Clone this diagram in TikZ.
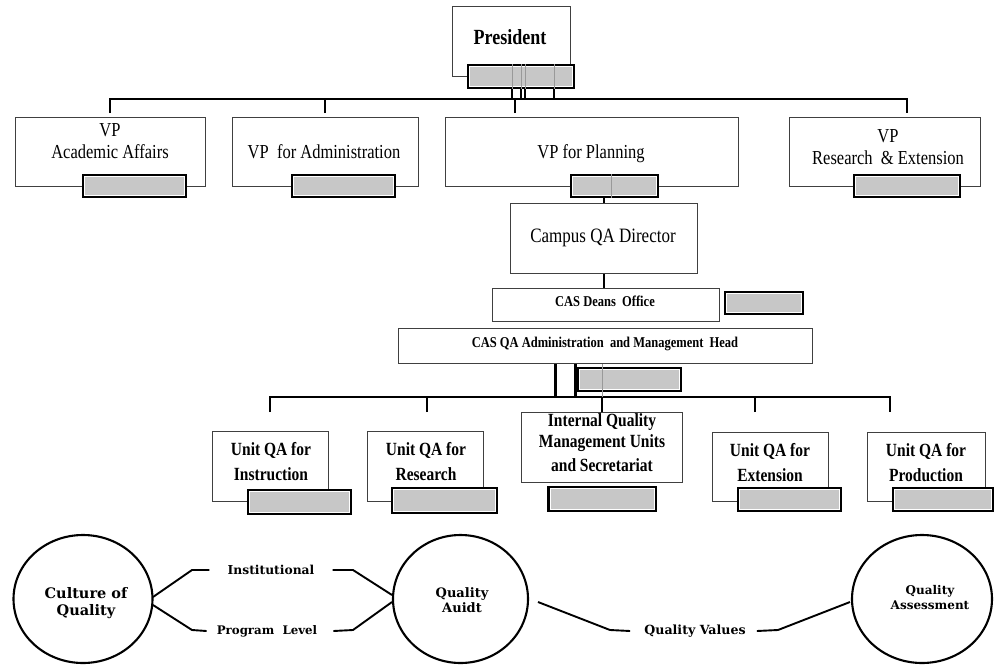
\documentclass[tikz,border=0pt]{standalone}
\usepackage{graphicx}
\usepackage{fontspec}
\setmainfont{Liberation Serif}
\newfontfamily\roundfont{DejaVu Serif}
\usetikzlibrary{shapes.geometric}
% centred lines of text, stretched a little upwards
\newcommand{\tallstack}[1]{\scalebox{1}[1.2]{\begin{tabular}{@{}c@{}}#1\end{tabular}}}
\begin{document}
\begin{tikzpicture}[x=1pt,y=-1pt,
  sz/.style 2 args={minimum width=#1pt, minimum height=#2pt},
  box/.style={draw=black!75, line width=1.1pt, fill=white, inner sep=0pt, anchor=north west},
  tag/.style={draw=black, line width=1.7pt, fill=white, inner sep=0pt, anchor=north west,
    path picture={\fill[black!22] ([shift={(1.8pt,1.8pt)}]path picture bounding box.south west)
      rectangle ([shift={(-1.8pt,-1.8pt)}]path picture bounding box.north east);}},
  txt/.style={inner sep=0pt, align=center},
  vpfont/.style={font=\fontsize{16.5}{19}\selectfont},
  unitfont/.style={font=\fontsize{15.5}{21}\selectfont\bfseries},
  conn/.style={draw=black, line width=1.9pt},
  thinconn/.style={draw=black, line width=1.3pt},
  faint/.style={draw=black!40, line width=0.7pt},
  ring/.style={ellipse, draw=black, line width=2.1pt, inner sep=0pt},
  link/.style={draw=black, line width=1.9pt},
  tie/.style={inner xsep=0pt, inner ysep=2pt, font=\roundfont\bfseries}
]
\useasboundingbox (0,0) rectangle (994,665);

% ---------- top level ----------
\node[box, sz={118}{70}] (pres) at (452,6) {};
\node[tag, sz={106}{23}] (presg) at (467,64) {};
\node[txt, font=\fontsize{18}{20}\selectfont\bfseries] (pres-t) at (510,40) {\tallstack{President}};

\node[box, sz={190}{69}] (vpaa) at (15,117) {};
\node[tag, sz={103}{22}] (vpaag) at (82,174) {};
\node[txt, vpfont] (vpaa-t) at (110,143) {\tallstack{VP\\Academic Affairs}};

\node[box, sz={186}{69}] (vpadm) at (232,117) {};
\node[tag, sz={103}{22}] (vpadmg) at (291,174) {};
\node[txt, vpfont] (vpadm-t) at (324,154) {\tallstack{VP\ \ for Administration}};

\node[box, sz={293}{69}] (vpplan) at (445,117) {};
\node[tag, sz={87}{22}] (vpplang) at (570,174) {};
\node[txt, vpfont] (vpplan-t) at (591,154) {\tallstack{VP for Planning}};

\node[box, sz={191}{69}] (vpres) at (789,117) {};
\node[tag, sz={106}{22}] (vpresg) at (853,174) {};
\node[txt, vpfont] (vpres-t) at (888,149) {\tallstack{VP\\Research\ \ \& Extension}};

% president to vice presidents
\coordinate (barL) at (110,99);
\coordinate (barR) at (907,99);
\coordinate (vpaa-in) at (110,113);
\coordinate (vpadm-in) at (325,113);
\coordinate (vpplan-in) at (515,113);
\coordinate (vpres-in) at (907,113);
\draw[conn] (vpaa-in) -- (barL) -- (barR) -- (vpres-in);
\draw[conn] (vpadm-in) -- (vpadm-in |- barL);
\draw[conn] (vpplan-in) -- (vpplan-in |- barL);
\foreach \dx in {-9,0,4,33}
  \draw[thinconn] ([xshift=\dx pt]presg.south) -- ([xshift=\dx pt]presg.south |- barL);
\foreach \dx in {-9,0,4,33}
  \draw[faint] ([xshift=\dx pt]presg.north) -- ([xshift=\dx pt]presg.south);

% ---------- campus level ----------
\node[box, sz={187}{70}] (campus) at (510,203) {};
\node[txt, font=\fontsize{17}{20}\selectfont] (campus-t) at (603,238) {\tallstack{Campus QA Director}};
\draw[thinconn] (campus.north) -- (campus.north |- vpplang.south);
\draw[faint] ([xshift=-3pt]vpplang.north) -- ([xshift=-3pt]vpplang.south);

\node[box, sz={227}{33}] (deans) at (492,288) {};
\node[txt, font=\fontsize{12.5}{14}\selectfont\bfseries] (deans-t) at (605,303) {\tallstack{CAS Deans\ \ Office}};
\node[tag, sz={78}{22}] (deansg) at (724,291) {};
\draw[thinconn] (campus.south) -- (campus.south |- deans.north);

\node[box, sz={414}{35}] (casqa) at (398,328) {};
\node[txt, font=\fontsize{12.5}{14}\selectfont\bfseries] (casqa-t) at (605,344) {\tallstack{CAS QA Administration\ \ and Management\ \ Head}};
\node[tag, sz={103}{23}] (casqag) at (577,367) {};

% ---------- units ----------
\node[box, sz={116}{70}] (uinst) at (212,431) {};
\node[tag, sz={103}{24}] (uinstg) at (247,489) {};
\node[txt, unitfont] (uinst-t) at (271,463) {\tallstack{Unit QA for\\Instruction}};

\node[box, sz={116}{70}] (ures) at (367,431) {};
\node[tag, sz={105}{25}] (uresg) at (391,487) {};
\node[txt, unitfont] (ures-t) at (426,463) {\tallstack{Unit QA for\\Research}};

\node[box, sz={161}{70}] (iqm) at (521,412) {};
\node[tag, sz={107}{24}] (iqmg) at (548,486) {};
\draw[draw=black, line width=2.4pt] (iqmg.north west) -- (iqmg.south west);
\node[txt, font=\fontsize{15.5}{17}\selectfont\bfseries] (iqm-t) at (602,445) {\tallstack{Internal Quality\\Management Units\\[3pt]and Secretariat}};

\node[box, sz={116}{69}] (uext) at (712,432) {};
\node[tag, sz={103}{23}] (uextg) at (737,487) {};
\node[txt, unitfont] (uext-t) at (770,464) {\tallstack{Unit QA for\\Extension}};

\node[box, sz={118}{69}] (uprod) at (867,432) {};
\node[tag, sz={100}{23}] (uprodg) at (892,487) {};
\node[txt, unitfont] (uprod-t) at (926,464) {\tallstack{Unit QA for\\Production}};

% head to units
\coordinate (ubarL) at (270,397);
\coordinate (ubarR) at (890,397);
\coordinate (uinst-in) at (270,412);
\coordinate (ures-in) at (427,412);
\coordinate (uext-in) at (755,412);
\coordinate (uprod-in) at (890,412);
\draw[conn, line width=2.3pt] (uinst-in) -- (ubarL) -- (ubarR) -- (uprod-in);
\draw[conn, line width=2.3pt] (ures-in) -- (ures-in |- ubarL);
\draw[conn, line width=2.3pt] (uext-in) -- (uext-in |- ubarL);
\draw[conn, line width=2.3pt] ([xshift=-50pt]casqa.south) -- ([xshift=-50pt]casqa.south |- ubarL);
\draw[conn, line width=2.3pt] ([xshift=-30pt]casqa.south) -- ([xshift=-30pt]casqa.south |- ubarL);
\draw[faint] ([xshift=-3pt]casqa.south) -- ([xshift=-3pt]casqa.south |- ubarL);
\draw[conn, line width=2.3pt] (iqm.north) -- (iqm.north |- ubarL);

% ---------- quality cycle ----------
\node[ring, minimum width=139pt, minimum height=128pt] (culture) at (83,599) {};
\node[txt, font=\roundfont\bfseries\fontsize{14.5}{17}\selectfont] (culture-t) at (86,603) {Culture of\\Quality};

\node[ring, minimum width=135pt, minimum height=128pt] (audit) at (460.5,599) {};
\node[txt, font=\roundfont\bfseries\fontsize{13}{15}\selectfont] (audit-t) at (462,600) {Quality\\Auidt};

\node[ring, minimum width=140pt, minimum height=128pt] (assess) at (922,599) {};
\node[txt, font=\roundfont\bfseries\fontsize{12}{15}\selectfont] (assess-t) at (930,598) {Quality\\Assessment};

\node[tie, font=\roundfont\bfseries\fontsize{12.3}{14}\selectfont] (inst) at (271,570) {Institutional};
\node[tie, font=\roundfont\bfseries\fontsize{11.8}{14}\selectfont] (prog) at (267,631) {Program\ \ Level};
\node[tie, font=\roundfont\bfseries\fontsize{12.6}{14}\selectfont] (qv) at (695,631) {Quality Values};

\coordinate (c-up) at (153,597);
\coordinate (c-dn) at (153,605);
\coordinate (a-up) at (392,595);
\coordinate (a-dn) at (392,602);
\coordinate (a-out) at (538,602);
\coordinate (s-in) at (850,602);

\draw[link] (c-up) -- (192,570) -- ([xshift=-18pt]inst.west);
\draw[link] ([xshift=18pt]inst.east) -- (353,570) -- (a-up);
\draw[link] (c-dn) -- (192,630) -- ([xshift=-10pt]prog.west);
\draw[link] ([xshift=16pt]prog.east) -- (353,630) -- (a-dn);
\draw[link] (a-out) -- (610,630) -- ([xshift=-14pt]qv.west);
\draw[link] ([xshift=11pt]qv.east) -- (778,630) -- (s-in);
\end{tikzpicture}
\end{document}
